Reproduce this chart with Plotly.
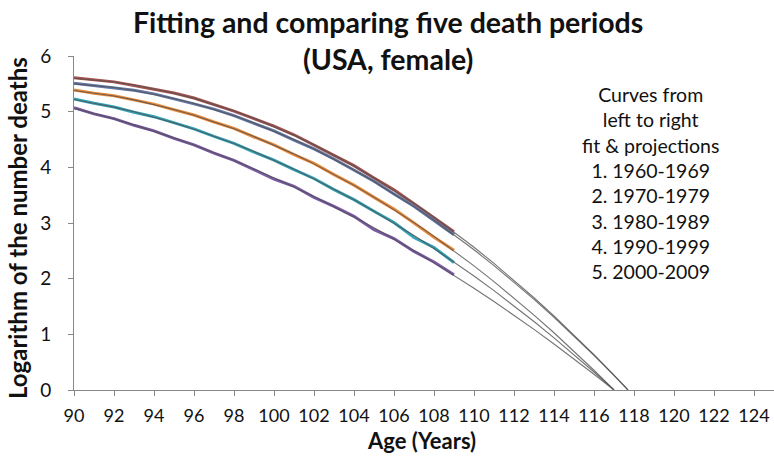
import plotly.graph_objects as go

# ---------------- data ----------------
ages_data = list(range(90, 110))

red_data = [5.61, 5.575, 5.535, 5.47, 5.405, 5.335, 5.245, 5.13, 5.01, 4.875,
            4.74, 4.585, 4.40, 4.225, 4.03, 3.81, 3.595, 3.345, 3.095, 2.845]
blue_data = [5.51, 5.47, 5.43, 5.385, 5.32, 5.235, 5.14, 5.045, 4.93, 4.79,
             4.655, 4.49, 4.33, 4.15, 3.95, 3.75, 3.52, 3.30, 3.045, 2.79]
orange_data = [5.39, 5.33, 5.285, 5.21, 5.135, 5.035, 4.94, 4.815, 4.70, 4.545,
               4.405, 4.23, 4.07, 3.87, 3.68, 3.46, 3.25, 3.00, 2.745, 2.51]
teal_data = [5.23, 5.15, 5.085, 4.99, 4.91, 4.795, 4.69, 4.555, 4.43, 4.275,
             4.13, 3.96, 3.80, 3.60, 3.42, 3.21, 3.01, 2.74, 2.56, 2.29]
purple_data = [5.07, 4.96, 4.875, 4.755, 4.655, 4.52, 4.405, 4.255, 4.125, 3.96,
               3.79, 3.66, 3.46, 3.30, 3.12, 2.88, 2.72, 2.49, 2.30, 2.07]

ages_fit_late = list(range(90, 118)) + [117.7]
ages_fit_early = list(range(90, 118))

red_fit = [5.600, 5.572, 5.532, 5.478, 5.411, 5.332, 5.239, 5.133, 5.013, 4.881,
           4.736, 4.578, 4.406, 4.222, 4.024, 3.814, 3.590, 3.353, 3.103, 2.840,
           2.564, 2.275, 1.973, 1.657, 1.329, 0.988, 0.633, 0.265, 0.0]
blue_fit = [5.500, 5.473, 5.433, 5.381, 5.315, 5.237, 5.146, 5.042, 4.925, 4.795,
            4.652, 4.497, 4.329, 4.147, 3.953, 3.746, 3.527, 3.294, 3.049, 2.790,
            2.519, 2.235, 1.938, 1.629, 1.306, 0.971, 0.622, 0.261, 0.0]
orange_fit = [5.380, 5.336, 5.280, 5.212, 5.131, 5.040, 4.936, 4.820, 4.692, 4.553,
              4.401, 4.238, 4.062, 3.875, 3.676, 3.465, 3.241, 3.007, 2.760, 2.501,
              2.230, 1.947, 1.653, 1.346, 1.028, 0.698, 0.355, 0.0]
teal_fit = [5.220, 5.156, 5.081, 4.997, 4.903, 4.799, 4.685, 4.561, 4.427, 4.283,
            4.129, 3.966, 3.792, 3.609, 3.416, 3.212, 2.999, 2.776, 2.543, 2.300,
            2.048, 1.785, 1.512, 1.230, 0.937, 0.635, 0.323, 0.0]
purple_fit = [5.060, 4.969, 4.870, 4.763, 4.650, 4.529, 4.400, 4.265, 4.121, 3.971,
              3.813, 3.648, 3.475, 3.295, 3.108, 2.913, 2.711, 2.501, 2.284, 2.060,
              1.828, 1.589, 1.342, 1.089, 0.827, 0.559, 0.283, 0.0]

x_ticks = list(range(90, 125, 2))
y_ticks = [0, 1, 2, 3, 4, 5, 6]

title_lines = ["Fitting and comparing five death periods", "(USA, female)"]
legend_lines = ["Curves from", "left to right", "fit & projections",
                "1. 1960-1969", "2. 1970-1979", "3. 1980-1989",
                "4. 1990-1999", "5. 2000-2009"]
x_title = "Age (Years)"
y_title = "Logarithm of the number deaths"

# ---------------- figure ----------------
FONT = "Lato"
TXT = "#111"
L, R, T, B = 74, 0, 56, 70
W, H = 774, 460
PW, PH = W - L - R, H - T - B


def px_to_paper_x(px):
    return (px - L) / PW


def px_to_paper_y(py):
    return (H - B - py) / PH


fig = go.Figure()

series = [
    (red_data, "#A4534F"),
    (blue_data, "#6478A6"),
    (orange_data, "#E98A3A"),
    (teal_data, "#33A3B8"),
    (purple_data, "#7B5AA6"),
]
for vals, col in series:
    fig.add_trace(go.Scatter(x=ages_data, y=vals, mode="lines",
                             line=dict(color=col, width=3),
                             showlegend=False, hoverinfo="skip"))

fits = [
    (ages_fit_late, red_fit),
    (ages_fit_late, blue_fit),
    (ages_fit_early, orange_fit),
    (ages_fit_early, teal_fit),
    (ages_fit_early, purple_fit),
]
for xs, vals in fits:
    fig.add_trace(go.Scatter(x=xs, y=vals, mode="lines",
                             line=dict(color="rgba(80,80,80,0.8)", width=1.1),
                             showlegend=False, hoverinfo="skip"))

# title
fig.add_annotation(
    x=px_to_paper_x(388), xref="paper", y=px_to_paper_y(3), yref="paper",
    xanchor="center", yanchor="top", showarrow=False, align="center",
    text="<b>" + "<br>".join(title_lines) + "</b>",
    font=dict(family=FONT, size=28.5, color=TXT),
)
# legend text box
fig.add_annotation(
    x=px_to_paper_x(650), xref="paper", y=px_to_paper_y(81), yref="paper",
    xanchor="center", yanchor="top", showarrow=False, align="center",
    text="<br>".join(legend_lines),
    font=dict(family=FONT, size=19.5, color=TXT),
)
# axis titles
fig.add_annotation(
    x=px_to_paper_x(421), xref="paper", y=px_to_paper_y(440), yref="paper",
    xanchor="center", yanchor="middle", showarrow=False,
    text="<b>" + x_title + "</b>", font=dict(family=FONT, size=22, color=TXT),
)
fig.add_annotation(
    x=px_to_paper_x(17), xref="paper", y=px_to_paper_y(228), yref="paper",
    xanchor="center", yanchor="middle", showarrow=False, textangle=-90,
    text="<b>" + y_title + "</b>", font=dict(family=FONT, size=24, color=TXT),
)

fig.update_layout(
    width=W, height=H,
    margin=dict(l=L, r=R, t=T, b=B),
    paper_bgcolor="white", plot_bgcolor="white",
    font=dict(family=FONT, color=TXT),
)
fig.update_xaxes(
    range=[90, 125], tickmode="array", tickvals=x_ticks,
    ticks="outside", ticklen=5, tickcolor="#888", showline=True, linecolor="#888",
    linewidth=1, showgrid=False, zeroline=False, tickfont=dict(size=18, color=TXT),
    ticklabelstandoff=4,
)
fig.update_yaxes(
    range=[0, 6], tickmode="array", tickvals=y_ticks,
    ticks="outside", ticklen=5, tickcolor="#888", showline=True, linecolor="#888",
    linewidth=1, showgrid=False, zeroline=False, tickfont=dict(size=19, color=TXT),
    ticklabelstandoff=13,
)

fig.write_html("out.html")
